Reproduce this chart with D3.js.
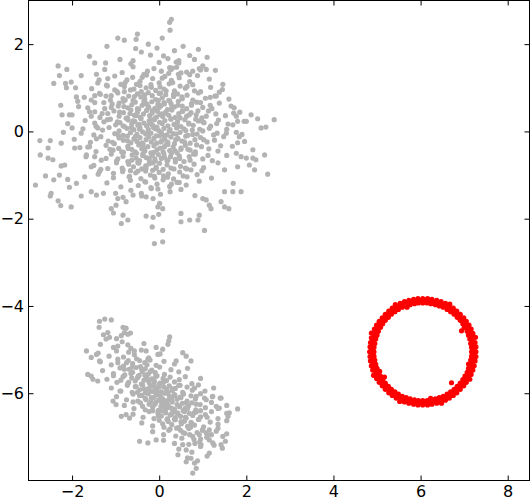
<!DOCTYPE html>
<html>
<head>
<meta charset="utf-8">
<script src="https://cdn.jsdelivr.net/npm/d3@7"></script>
<style>
body { margin: 0; background: #fff; }
</style>
</head>
<body>
<div id="chart"></div>
<script>
// tick labels
var xTicks = [-2, 0, 2, 4, 6, 8];
var yTicks = [-6, -4, -2, 0, 2];

// upper grey cluster, dense middle part (x, y)
var upperCore = [
[-1.25,1.42],[-0.85,1.35],[-0.6,1.48],[-0.35,1.31],[-0.12,1.44],[0.05,1.38],[0.22,1.33],[0.4,1.47],[0.63,1.36],[0.95,1.41],
[-1.38,1.18],[-1.02,1.27],[-0.78,1.12],[-0.61,1.24],[-0.44,1.15],[-0.29,1.29],[-0.15,1.21],[0.0,1.11],[0.13,1.26],[0.28,1.17],[0.46,1.23],[0.7,1.14],[0.88,1.28],[1.15,1.2],
[-1.55,0.98],[-1.21,1.06],[-0.97,0.92],[-0.8,1.03],[-0.66,0.95],[-0.52,1.08],[-0.41,0.91],[-0.3,1.0],[-0.19,1.07],[-0.08,0.94],[0.02,1.02],[0.11,0.97],[0.23,1.09],[0.35,0.93],[0.48,1.04],[0.6,0.99],[0.77,1.07],[0.95,0.91],[1.18,1.01],[1.45,0.96],
[-1.72,0.78],[-1.35,0.85],[-1.12,0.72],[-0.95,0.88],[-0.83,0.75],[-0.7,0.81],[-0.6,0.71],[-0.5,0.86],[-0.42,0.79],[-0.33,0.74],[-0.25,0.89],[-0.16,0.82],[-0.08,0.73],[0.0,0.87],[0.07,0.77],[0.15,0.84],[0.24,0.7],[0.33,0.8],[0.42,0.86],[0.53,0.75],[0.64,0.83],[0.77,0.72],[0.9,0.88],[1.06,0.76],[1.28,0.81],[1.6,0.74],
[-1.85,0.57],[-1.48,0.66],[-1.25,0.52],[-1.08,0.63],[-0.94,0.58],[-0.82,0.69],[-0.72,0.54],[-0.63,0.61],[-0.55,0.67],[-0.47,0.51],[-0.39,0.6],[-0.31,0.65],[-0.24,0.55],[-0.17,0.68],[-0.1,0.53],[-0.03,0.62],[0.04,0.59],[0.11,0.66],[0.19,0.5],[0.27,0.64],[0.35,0.56],[0.44,0.69],[0.53,0.58],[0.63,0.52],[0.74,0.63],[0.86,0.67],[1.0,0.55],[1.17,0.6],[1.38,0.65],[1.72,0.54],
[-2.0,0.38],[-1.6,0.45],[-1.36,0.32],[-1.18,0.41],[-1.04,0.47],[-0.92,0.35],[-0.82,0.43],[-0.73,0.31],[-0.65,0.49],[-0.57,0.37],[-0.5,0.44],[-0.43,0.33],[-0.36,0.4],[-0.29,0.48],[-0.22,0.36],[-0.16,0.42],[-0.1,0.3],[-0.04,0.46],[0.02,0.39],[0.08,0.34],[0.15,0.44],[0.22,0.37],[0.29,0.49],[0.37,0.32],[0.45,0.41],[0.54,0.46],[0.63,0.35],[0.73,0.43],[0.85,0.38],[0.98,0.31],[1.13,0.47],[1.3,0.4],[1.52,0.36],[1.85,0.44],
[-2.1,0.18],[-1.7,0.25],[-1.45,0.12],[-1.27,0.22],[-1.12,0.28],[-1.0,0.15],[-0.9,0.2],[-0.8,0.11],[-0.71,0.26],[-0.63,0.17],[-0.56,0.23],[-0.49,0.14],[-0.42,0.29],[-0.35,0.19],[-0.29,0.13],[-0.23,0.24],[-0.17,0.16],[-0.11,0.27],[-0.05,0.1],[0.01,0.21],[0.07,0.18],[0.13,0.25],[0.2,0.13],[0.27,0.28],[0.34,0.16],[0.42,0.22],[0.5,0.11],[0.59,0.27],[0.68,0.19],[0.78,0.14],[0.9,0.24],[1.03,0.2],[1.18,0.12],[1.36,0.26],[1.58,0.17],[1.95,0.23],
[-2.2,-0.02],[-1.75,0.06],[-1.5,-0.08],[-1.3,0.03],[-1.15,0.09],[-1.02,-0.05],[-0.92,0.01],[-0.83,-0.09],[-0.74,0.07],[-0.66,-0.03],[-0.58,0.04],[-0.51,-0.07],[-0.44,0.08],[-0.38,-0.01],[-0.31,-0.06],[-0.25,0.05],[-0.19,-0.04],[-0.13,0.09],[-0.07,-0.1],[-0.01,0.02],[0.05,-0.03],[0.11,0.07],[0.18,-0.08],[0.25,0.04],[0.32,-0.05],[0.4,0.08],[0.48,-0.02],[0.57,0.06],[0.66,-0.09],[0.76,0.03],[0.87,-0.06],[1.0,0.01],[1.15,0.07],[1.33,-0.04],[1.55,0.05],[1.9,-0.07],
[-1.95,-0.18],[-1.58,-0.25],[-1.34,-0.12],[-1.17,-0.22],[-1.03,-0.28],[-0.92,-0.15],[-0.82,-0.2],[-0.73,-0.11],[-0.65,-0.26],[-0.58,-0.17],[-0.51,-0.23],[-0.44,-0.14],[-0.37,-0.29],[-0.3,-0.19],[-0.24,-0.13],[-0.18,-0.24],[-0.12,-0.16],[-0.06,-0.27],[0.0,-0.1],[0.06,-0.21],[0.13,-0.18],[0.2,-0.25],[0.27,-0.13],[0.35,-0.28],[0.43,-0.16],[0.52,-0.22],[0.61,-0.11],[0.71,-0.27],[0.82,-0.19],[0.95,-0.14],[1.1,-0.24],[1.27,-0.2],[1.48,-0.12],[1.8,-0.26],
[-1.82,-0.37],[-1.45,-0.46],[-1.22,-0.32],[-1.06,-0.43],[-0.93,-0.39],[-0.82,-0.48],[-0.72,-0.34],[-0.63,-0.41],[-0.55,-0.47],[-0.47,-0.31],[-0.4,-0.4],[-0.33,-0.45],[-0.26,-0.35],[-0.19,-0.49],[-0.12,-0.33],[-0.05,-0.42],[0.02,-0.38],[0.09,-0.46],[0.16,-0.3],[0.24,-0.44],[0.32,-0.36],[0.41,-0.49],[0.5,-0.38],[0.6,-0.32],[0.71,-0.43],[0.83,-0.47],[0.97,-0.35],[1.14,-0.4],[1.35,-0.45],[1.68,-0.34],
[-1.68,-0.58],[-1.33,-0.66],[-1.1,-0.52],[-0.95,-0.63],[-0.83,-0.57],[-0.72,-0.69],[-0.62,-0.54],[-0.53,-0.61],[-0.45,-0.67],[-0.37,-0.51],[-0.3,-0.6],[-0.23,-0.65],[-0.16,-0.55],[-0.09,-0.68],[-0.02,-0.53],[0.05,-0.62],[0.12,-0.59],[0.2,-0.66],[0.28,-0.5],[0.37,-0.64],[0.46,-0.56],[0.57,-0.69],[0.69,-0.58],[0.83,-0.52],[1.0,-0.63],[1.22,-0.67],[1.55,-0.55],
[-1.5,-0.78],[-1.18,-0.85],[-0.98,-0.72],[-0.83,-0.88],[-0.7,-0.75],[-0.59,-0.81],[-0.49,-0.71],[-0.4,-0.86],[-0.31,-0.79],[-0.23,-0.74],[-0.15,-0.89],[-0.07,-0.82],[0.01,-0.73],[0.09,-0.87],[0.18,-0.77],[0.27,-0.84],[0.37,-0.7],[0.49,-0.8],[0.63,-0.86],[0.8,-0.75],[1.02,-0.83],[1.35,-0.72],
[-1.4,-0.98],[-1.05,-1.06],[-0.84,-0.92],[-0.68,-1.03],[-0.54,-0.95],[-0.42,-1.08],[-0.31,-0.91],[-0.2,-1.0],[-0.1,-1.07],[0.0,-0.94],[0.1,-1.02],[0.21,-0.97],[0.33,-1.09],[0.47,-0.93],[0.64,-1.04],[0.87,-0.99],[1.2,-1.07],
[-1.2,-1.18],[-0.88,-1.27],[-0.66,-1.12],[-0.48,-1.24],[-0.33,-1.15],[-0.19,-1.29],[-0.05,-1.21],[0.09,-1.11],[0.24,-1.26],[0.41,-1.17],[0.62,-1.23],[0.92,-1.14],
[-1.0,-1.42],[-0.65,-1.35],[-0.4,-1.48],[-0.18,-1.31],[0.03,-1.44],[0.25,-1.38],[0.5,-1.33],[0.82,-1.47]
];

// upper grey cluster, extra points filling the middle (x, y)
var upperFill = [
[-0.45,0.05],[0.12,-0.35],[-0.28,0.62],[0.41,0.15],[-0.72,-0.22],[0.03,0.88],[-0.91,0.44],[0.66,-0.41],[-0.15,-0.72],[0.29,0.55],
[-0.58,0.97],[0.84,0.28],[-1.13,-0.41],[0.19,-1.05],[-0.36,-0.38],[0.52,0.79],[-0.83,0.13],[1.02,-0.19],[-0.06,0.33],[-0.49,-0.91],
[0.31,1.12],[-1.27,0.66],[0.73,-0.88],[-0.21,0.18],[0.09,-0.09],[-0.67,0.41],[0.47,-0.62],[-0.98,-0.68],[1.21,0.52],[-0.39,1.24],
[0.61,0.02],[-0.12,-0.48],[-0.78,0.72],[0.22,0.71],[-1.41,0.08],[0.95,0.66],[-0.31,-1.16],[0.38,-0.19],[-0.55,-0.12],[0.0,0.55],
[-1.02,0.95],[0.77,-0.07],[-0.18,1.01],[0.15,0.42],[-0.86,-0.47],[0.55,-1.02],[-0.42,0.31],[1.12,-0.55],[-1.6,-0.35],[0.26,-0.58],
[-0.63,-0.66],[0.44,1.31],[-0.07,-0.85],[0.89,0.47],[-1.19,0.27],[-0.26,-0.02],[0.34,-0.86],[-0.74,1.18],[0.69,0.38],[-0.5,0.52],
[0.07,1.22],[-1.34,-0.87],[1.32,0.18],[-0.09,0.06],[-0.94,-0.09],[0.58,-0.24],[-0.33,0.84],[0.18,-0.67],[-0.69,-1.04],[0.98,-0.9],
[-1.48,0.45],[0.12,0.63],[-0.23,-0.61],[0.48,0.31],[-0.88,1.08],[1.41,-0.33],[-0.4,-0.26],[-0.03,-1.32],[0.81,0.93],[-1.07,-0.25],
[-0.6,0.24],[0.36,-0.44],[-0.16,0.47],[0.64,1.03],[-1.22,-0.62],[0.23,0.01],[-0.52,-0.5],[1.08,0.35],[-0.81,0.57],[0.04,-0.24],
[-0.35,0.69],[0.71,-0.66],[-1.56,0.72],[0.43,0.6],[-0.11,-1.03],[-0.71,-0.39],[0.93,0.05],[-0.27,1.38],[0.28,-1.21],[-0.96,0.22],
[0.53,0.47],[-0.47,-0.73],[1.25,-0.08],[-0.2,0.27],[-1.31,0.41],[0.16,0.93],[-0.64,0.09],[0.39,-0.06],[-0.85,-0.84],[0.74,0.6],
[-0.02,0.71],[-0.44,1.05],[0.6,-0.84],[-1.1,0.55],[0.27,0.29],[-0.3,-0.84],[0.86,-0.31],[-0.76,0.3],[0.11,-0.52],[-0.57,0.8],
[1.17,0.78],[-1.44,-0.17],[0.46,-1.17],[-0.14,0.13],[-0.92,0.65],[0.33,0.85],[-0.38,-0.55],[0.79,-0.52],[-0.66,-0.9],[0.06,0.4],
[-1.05,-0.96],[0.68,0.17],[-0.25,0.56],[0.5,-0.41],[-0.8,0.91],[0.2,-0.3],[-0.53,0.36],[1.0,0.22],[-0.1,-0.63],[-0.46,0.16]
];

// upper grey cluster, sparse outskirts (x, y)
var upperEdge = [
[0.28,2.57],[0.24,2.5],[0.25,2.32],[0.07,2.14],[-0.05,1.91],[-0.95,2.14],[-0.8,2.09],[-0.5,2.23],[-0.53,2.11],[-0.54,1.9],[-0.41,1.82],
[-1.2,1.95],[0.9,1.88],[0.35,1.85],[-1.6,1.72],[-0.9,1.65],[-0.2,1.75],[0.45,1.62],[1.1,1.7],[-0.6,1.62],[-0.25,2.0],[0.55,1.95],[-0.65,1.55],[0.0,1.58],
[-2.32,1.5],[-2.12,1.42],[-2.29,1.28],[-2.42,1.1],[-2.15,1.1],[-2.02,1.13],[-2.13,1.0],[-1.92,1.0],[-1.79,1.28],[-1.48,1.57],[-1.23,1.57],
[-2.26,0.6],[-2.23,0.38],[-2.06,0.38],[-1.9,0.79],[-1.87,0.69],[-2.0,0.08],[-1.64,0.54],[-1.56,0.35],[-1.44,1.31],[-1.41,1.11],[-1.18,1.21],[-1.19,1.04],[-1.48,0.82],[-1.37,0.87],[-1.22,0.81],[-1.1,0.82],[-1.48,0.19],
[0.7,1.74],[0.81,1.65],[0.1,1.73],[0.2,1.67],[0.24,1.46],[0.39,1.59],[0.45,1.57],[0.3,1.45],[0.27,1.42],[0.92,1.44],[1.0,1.5],[1.08,1.42],[1.29,1.4],[0.77,1.38],[0.7,1.3],[0.5,1.34],
[1.46,1.08],[1.38,0.9],[1.31,0.81],[1.65,0.58],[1.71,0.42],[1.77,0.35],[2.11,0.38],[2.26,0.29],[2.64,0.27],[2.0,0.23],[1.8,0.23],[1.69,0.15],[2.34,0.08],[2.45,0.1],
[1.54,-0.04],[1.77,-0.02],[1.84,-0.12],[1.96,-0.23],[2.15,-0.42],[2.42,-0.54],[2.49,-0.98],[1.77,-0.5],[1.88,-0.58],[2.0,-0.61],[2.15,-0.61],[2.22,-0.65],[1.8,-0.81],[2.07,-0.77],[2.19,-0.88],[1.5,-0.88],[1.7,-1.19],[1.5,-1.38],[1.69,-1.38],[1.88,-1.38],
[1.42,-1.61],[1.6,-1.77],[1.5,-1.73],[1.15,-1.69],[1.19,-1.77],[1.08,-1.57],[1.0,-1.54],
[1.04,-2.27],[0.89,-2.03],[0.92,-1.92],[0.7,-2.03],[0.5,-2.07],[0.5,-1.88],[0.08,-2.27],[0.08,-2.53],[-0.01,-1.9],[0.08,-1.77],
[-2.74,-0.21],[-2.5,-0.21],[-2.25,-0.27],[-2.55,-0.38],[-2.73,-0.54],[-2.55,-0.61],[-2.44,-0.65],[-2.84,-1.23],
[-2.61,-1.02],[-2.42,-1.11],[-2.29,-1.0],[-2.1,-1.1],[-2.48,-1.42],[-2.5,-1.48],[-2.32,-1.59],[-2.26,-1.7],[-2.02,-1.73],[-1.79,-1.48],[-1.56,-1.38],[-1.44,-1.46],[-1.28,-1.42],[-2.06,-1.28],[-1.9,-1.19],[-1.71,-1.04],[-2.25,-0.79],[-2.17,-0.77],
[-1.94,-0.38],[-1.79,-0.04],[-1.64,-0.36],[-1.67,-0.54],[-1.48,-0.58],[-1.56,-0.81],[-1.37,-0.92],
[-1.1,-1.77],[-0.99,-1.69],[-1.05,-1.87],[-0.83,-1.92],[-0.72,-2.03],[-0.87,-2.11],[-0.3,-1.94],[-0.14,-1.97],[-0.16,-2.19],[-0.11,-2.57],
[-0.95,-1.54],[-0.83,-1.51],[-0.76,-1.61],[-0.6,-1.46],[-0.41,-1.42],[-0.3,-1.5],[-0.14,-1.54],[-0.03,-1.73],[0.01,-1.65]
];

// lower grey cluster, dense middle part (x, y)
var lowerCore = [
[-1.28,-4.66],[-0.98,-4.75],[-0.66,-4.62],
[-1.35,-4.88],[-1.05,-4.95],[-0.85,-4.82],[-0.65,-4.97],[-0.35,-4.86],
[-1.4,-5.08],[-1.15,-5.15],[-0.98,-5.03],[-0.82,-5.17],[-0.7,-5.06],[-0.57,-5.12],[-0.41,-5.01],[-0.24,-5.19],[0.02,-5.1],
[-1.35,-5.28],[-1.1,-5.35],[-0.95,-5.22],[-0.82,-5.38],[-0.71,-5.25],[-0.61,-5.32],[-0.52,-5.21],[-0.43,-5.39],[-0.33,-5.3],[-0.21,-5.24],[-0.07,-5.36],[0.11,-5.27],[0.35,-5.33],
[-1.3,-5.48],[-1.05,-5.55],[-0.9,-5.42],[-0.79,-5.58],[-0.69,-5.45],[-0.61,-5.52],[-0.53,-5.41],[-0.46,-5.59],[-0.39,-5.5],[-0.32,-5.44],[-0.25,-5.56],[-0.17,-5.47],[-0.09,-5.53],[0.01,-5.4],[0.12,-5.57],[0.27,-5.46],[0.45,-5.51],[0.65,-5.43],
[-1.2,-5.68],[-0.97,-5.75],[-0.83,-5.62],[-0.72,-5.78],[-0.63,-5.65],[-0.55,-5.72],[-0.48,-5.61],[-0.41,-5.79],[-0.35,-5.7],[-0.29,-5.64],[-0.23,-5.76],[-0.17,-5.67],[-0.11,-5.73],[-0.05,-5.6],[0.02,-5.77],[0.09,-5.66],[0.17,-5.71],[0.25,-5.63],[0.35,-5.74],[0.46,-5.69],[0.6,-5.62],[0.75,-5.78],[0.95,-5.66],
[-1.1,-5.88],[-0.88,-5.95],[-0.73,-5.82],[-0.62,-5.98],[-0.53,-5.85],[-0.45,-5.92],[-0.38,-5.81],[-0.32,-5.99],[-0.26,-5.9],[-0.2,-5.84],[-0.15,-5.96],[-0.1,-5.87],[-0.05,-5.93],[0.0,-5.8],[0.05,-5.97],[0.11,-5.86],[0.17,-5.91],[0.23,-5.83],[0.3,-5.94],[0.37,-5.89],[0.45,-5.82],[0.54,-5.98],[0.64,-5.86],[0.76,-5.93],[0.9,-5.81],[1.05,-5.95],[1.25,-5.88],
[-0.98,-6.08],[-0.75,-6.15],[-0.6,-6.02],[-0.49,-6.18],[-0.4,-6.05],[-0.32,-6.12],[-0.25,-6.01],[-0.19,-6.19],[-0.13,-6.1],[-0.07,-6.04],[-0.02,-6.16],[0.03,-6.07],[0.08,-6.13],[0.13,-6.0],[0.18,-6.17],[0.23,-6.06],[0.29,-6.11],[0.35,-6.03],[0.41,-6.14],[0.48,-6.09],[0.56,-6.02],[0.64,-6.18],[0.73,-6.06],[0.83,-6.13],[0.95,-6.01],[1.08,-6.15],[1.22,-6.08],[1.4,-6.11],
[-0.8,-6.28],[-0.58,-6.35],[-0.43,-6.22],[-0.32,-6.38],[-0.23,-6.25],[-0.15,-6.32],[-0.08,-6.21],[-0.02,-6.39],[0.04,-6.3],[0.1,-6.24],[0.15,-6.36],[0.2,-6.27],[0.25,-6.33],[0.3,-6.2],[0.35,-6.37],[0.41,-6.26],[0.47,-6.31],[0.53,-6.23],[0.6,-6.34],[0.67,-6.29],[0.75,-6.22],[0.84,-6.38],[0.94,-6.26],[1.06,-6.33],[1.2,-6.21],[1.35,-6.35],[1.55,-6.28],
[-0.6,-6.48],[-0.37,-6.55],[-0.23,-6.42],[-0.12,-6.58],[-0.03,-6.45],[0.05,-6.52],[0.12,-6.41],[0.19,-6.59],[0.25,-6.5],[0.31,-6.44],[0.37,-6.56],[0.43,-6.47],[0.49,-6.53],[0.55,-6.4],[0.62,-6.57],[0.69,-6.46],[0.77,-6.51],[0.85,-6.43],[0.95,-6.54],[1.06,-6.49],[1.2,-6.42],[1.35,-6.58],[1.55,-6.46],
[-0.4,-6.68],[-0.15,-6.75],[0.0,-6.62],[0.11,-6.78],[0.21,-6.65],[0.29,-6.72],[0.37,-6.61],[0.44,-6.79],[0.51,-6.7],[0.58,-6.64],[0.65,-6.76],[0.73,-6.67],[0.81,-6.73],[0.91,-6.6],[1.02,-6.77],[1.17,-6.66],[1.35,-6.71],[1.55,-6.63],
[-0.15,-6.88],[0.1,-6.95],[0.25,-6.82],[0.38,-6.98],[0.49,-6.85],[0.59,-6.92],[0.68,-6.81],[0.77,-6.99],[0.87,-6.9],[0.99,-6.84],[1.13,-6.96],[1.31,-6.87],[1.55,-6.93],
[0.1,-7.08],[0.35,-7.15],[0.52,-7.03],[0.68,-7.17],[0.8,-7.06],[0.93,-7.12],[1.09,-7.01],[1.26,-7.19],[1.52,-7.1],
[0.45,-7.28],[0.75,-7.35],[0.95,-7.22],[1.15,-7.37],[1.45,-7.26],
[0.65,-7.48],[0.88,-7.55],[1.1,-7.44]
];

// lower grey cluster, extra points along the ridge (x, y)
var lowerFill = [
[-0.2,-5.95],[0.3,-6.35],[-0.5,-5.65],[0.6,-6.55],[0.05,-6.2],[-0.35,-5.9],[0.45,-6.3],[-0.1,-6.25],[0.2,-5.98],[-0.65,-5.55],
[0.75,-6.7],[-0.25,-5.7],[0.15,-6.45],[0.5,-6.1],[-0.45,-6.05],[0.9,-6.6],[-0.8,-5.45],[0.35,-6.6],[0.0,-5.85],[-0.15,-6.4],
[0.65,-6.35],[-0.55,-5.85],[0.25,-6.15],[1.0,-6.85],[-0.95,-5.3],[0.4,-6.8],[-0.3,-6.15],[0.1,-5.75],[0.8,-6.45],[-0.7,-5.75],
[0.55,-6.9],[-0.05,-6.0],[-0.4,-5.45],[0.3,-5.9],[1.1,-6.55],[-0.6,-6.2],[0.7,-6.95],[0.18,-6.6],[-0.2,-5.5],[0.95,-7.05],
[-1.05,-5.6],[0.42,-6.45],[-0.12,-5.8],[0.62,-6.22],[-0.38,-6.3],[0.08,-6.7],[-0.75,-5.3],[0.85,-6.25],[0.28,-6.48],[-0.28,-5.35],
[0.5,-6.65],[-0.5,-5.98],[1.2,-6.95],[-0.02,-6.52],[-0.88,-5.7],[0.36,-6.05],[0.72,-6.78],[-0.18,-6.1],[0.12,-6.32],[-0.62,-5.4],
[0.58,-6.42],[-0.33,-5.58],[0.95,-6.4],[0.22,-6.85],[-0.08,-5.62],[0.48,-5.82],[-0.9,-5.95],[0.82,-7.15],[-0.45,-5.25],[0.03,-6.4]
];

// lower grey cluster, sparse outskirts (x, y)
var lowerEdge = [
[-1.25,-4.3],[-1.37,-4.35],[-1.1,-4.32],[-1.38,-4.49],[-1.18,-4.61],[-1.14,-4.72],[-1.22,-4.76],[-0.83,-4.49],[-0.76,-4.51],[-0.8,-4.61],[-0.87,-4.68],[-0.72,-4.65],[0.24,-4.71],[0.22,-4.8],[0.2,-4.88],
[-1.67,-5.03],[-1.56,-5.18],[-1.44,-5.11],[-1.37,-5.26],[-1.64,-5.57],[-1.56,-5.61],[-1.52,-5.68],[-1.41,-5.72],
[-1.06,-6.18],[-0.99,-6.26],[-0.87,-6.53],[-0.76,-6.49],[-0.68,-6.57],[-0.45,-7.1],[-0.26,-7.14],[-0.07,-7.07],
[0.62,-7.57],[0.73,-7.49],[0.81,-7.6],[0.77,-7.83],[0.85,-7.72],
[1.8,-6.36],[1.61,-6.45],[1.58,-6.53],[1.38,-6.34],[1.42,-6.11],[1.23,-6.07],[1.31,-6.3],[1.46,-6.99],[1.42,-7.18],[1.23,-7.14],[1.15,-7.07],[1.35,-6.8],[1.15,-6.84],[1.08,-6.91],[0.92,-6.95],[0.96,-7.18],[0.54,-7.18],[0.62,-7.3],[0.43,-7.41],
[0.54,-5.07],[0.62,-5.15],[0.73,-5.26],[0.39,-5.26],[0.81,-5.88],[1.04,-6.11],[0.85,-6.07],
[-0.3,-5.03],[-0.07,-4.95],[0.08,-4.99],[-0.03,-5.11],[-0.26,-5.22],[-0.95,-4.92],[-0.72,-4.89],[-0.57,-5.03]
];

// red ring, outer edge of the band (x, y)
var ringOuter = [
[7.27,-5.05],[7.27,-4.94],[7.25,-4.84],[7.26,-4.72],[7.2,-4.63],[7.16,-4.53],[7.11,-4.44],[7.05,-4.35],[6.99,-4.27],[6.91,-4.19],[6.83,-4.12],[6.75,-4.05],[6.67,-3.96],[6.57,-3.94],[6.47,-3.9],[6.37,-3.87],[6.26,-3.85],[6.16,-3.83],
[6.05,-3.83],[5.94,-3.83],[5.84,-3.85],[5.73,-3.87],[5.63,-3.9],[5.53,-3.94],[5.42,-3.97],[5.35,-4.05],[5.27,-4.12],[5.19,-4.19],[5.12,-4.27],[5.05,-4.35],[4.99,-4.44],[4.94,-4.53],[4.87,-4.62],[4.87,-4.73],[4.85,-4.84],[4.84,-4.94],
[4.83,-5.05],[4.84,-5.16],[4.85,-5.26],[4.87,-5.37],[4.9,-5.47],[4.92,-5.59],[4.99,-5.66],[5.05,-5.75],[5.12,-5.83],[5.19,-5.91],[5.27,-5.99],[5.35,-6.05],[5.44,-6.11],[5.52,-6.19],[5.63,-6.2],[5.73,-6.23],[5.84,-6.25],[5.94,-6.27],
[6.05,-6.27],[6.16,-6.27],[6.26,-6.25],[6.37,-6.23],[6.48,-6.23],[6.57,-6.16],[6.66,-6.11],[6.75,-6.05],[6.83,-5.99],[6.91,-5.91],[6.99,-5.83],[7.05,-5.75],[7.13,-5.68],[7.16,-5.57],[7.2,-5.47],[7.23,-5.37],[7.25,-5.26],[7.27,-5.16]
];

// red ring, middle of the band (x, y)
var ringMid = [
[7.22,-5.0],[7.21,-4.9],[7.19,-4.8],[7.17,-4.7],[7.13,-4.6],[7.09,-4.51],[7.04,-4.42],[6.98,-4.34],[6.91,-4.26],[6.84,-4.19],[6.76,-4.12],[6.68,-4.06],[6.59,-4.01],[6.5,-3.97],[6.4,-3.93],[6.3,-3.91],[6.2,-3.89],[6.1,-3.88],
[6.0,-3.88],[5.9,-3.89],[5.8,-3.91],[5.7,-3.93],[5.6,-3.97],[5.51,-4.01],[5.42,-4.06],[5.34,-4.12],[5.26,-4.19],[5.19,-4.26],[5.12,-4.34],[5.06,-4.42],[5.01,-4.51],[4.97,-4.6],[4.93,-4.7],[4.91,-4.8],[4.89,-4.9],[4.88,-5.0],
[4.88,-5.1],[4.89,-5.2],[4.91,-5.3],[4.93,-5.4],[4.97,-5.5],[5.01,-5.59],[5.06,-5.68],[5.12,-5.76],[5.19,-5.84],[5.26,-5.91],[5.34,-5.98],[5.42,-6.04],[5.51,-6.09],[5.6,-6.13],[5.7,-6.17],[5.8,-6.19],[5.9,-6.21],[6.0,-6.22],
[6.1,-6.22],[6.2,-6.21],[6.3,-6.19],[6.4,-6.17],[6.5,-6.13],[6.59,-6.09],[6.68,-6.04],[6.76,-5.98],[6.84,-5.91],[6.91,-5.84],[6.98,-5.76],[7.04,-5.68],[7.09,-5.59],[7.13,-5.5],[7.17,-5.4],[7.19,-5.3],[7.21,-5.2],[7.22,-5.1]
];

// red ring, inner edge of the band (x, y)
var ringInner = [
[7.17,-5.05],[7.17,-4.95],[7.15,-4.86],[7.13,-4.76],[7.1,-4.67],[7.07,-4.58],[7.0,-4.5],[6.97,-4.41],[6.91,-4.33],[6.84,-4.26],[6.77,-4.19],[6.69,-4.13],[6.61,-4.08],[6.52,-4.03],[6.43,-4.0],[6.34,-3.97],[6.24,-3.95],[6.15,-3.93],
[6.05,-3.93],[5.95,-3.93],[5.86,-3.95],[5.76,-3.97],[5.69,-4.03],[5.58,-4.03],[5.49,-4.08],[5.41,-4.13],[5.33,-4.19],[5.26,-4.26],[5.19,-4.33],[5.13,-4.41],[5.08,-4.49],[5.03,-4.58],[5.0,-4.67],[4.97,-4.76],[4.95,-4.86],[4.93,-4.95],
[4.93,-5.05],[4.93,-5.15],[4.95,-5.24],[4.97,-5.34],[5.0,-5.43],[5.06,-5.5],[5.08,-5.61],[5.13,-5.69],[5.19,-5.77],[5.26,-5.84],[5.33,-5.91],[5.41,-5.97],[5.49,-6.02],[5.58,-6.07],[5.67,-6.1],[5.76,-6.13],[5.86,-6.15],[5.95,-6.17],
[6.05,-6.17],[6.15,-6.17],[6.23,-6.12],[6.34,-6.13],[6.43,-6.1],[6.52,-6.07],[6.61,-6.02],[6.69,-5.97],[6.77,-5.91],[6.84,-5.84],[6.91,-5.77],[6.97,-5.69],[7.02,-5.61],[7.07,-5.52],[7.1,-5.43],[7.1,-5.33],[7.15,-5.24],[7.17,-5.15]
];

// red points that fall inside the ring
var ringStray = [[5.17,-5.63],[6.71,-5.76],[6.94,-4.57]];

// set the dimensions and margins of the graph
var margin = {top: 0.5, right: 1.5, bottom: 16.5, left: 28.5},
    width = 531 - margin.left - margin.right,
    height = 497 - margin.top - margin.bottom;

var svg = d3.select("#chart")
.append("svg")
.attr("width", 531)
.attr("height", 497)
.append("g")
.attr("transform", "translate(" + margin.left + "," + margin.top + ")");

var x = d3.scaleLinear().domain([-3, 8.5]).range([0, width]);
var y = d3.scaleLinear().domain([-8, 3]).range([height, 0]);

// grey clusters
var grey = upperCore.concat(upperFill, upperEdge, lowerCore, lowerFill, lowerEdge);
svg.append("g")
.selectAll("circle")
.data(grey)
.enter().append("circle")
.attr("cx", function(d) { return x(d[0]); })
.attr("cy", function(d) { return y(d[1]); })
.attr("r", 2.6)
.attr("fill", "#b3b3b3");

// red ring
var ring = ringOuter.concat(ringMid, ringInner, ringStray);
svg.append("g")
.selectAll("circle")
.data(ring)
.enter().append("circle")
.attr("cx", function(d) { return x(d[0]); })
.attr("cy", function(d) { return y(d[1]); })
.attr("r", 2.6)
.attr("fill", "#ff0000");

// axes, ticks pointing inwards on all four sides
function styleAxis(g) {
    g.attr("font-size", 16).attr("font-family", "'DejaVu Sans', sans-serif");
    g.select(".domain").remove();
    g.selectAll(".tick line").attr("stroke", "#000");
    g.selectAll(".tick text").attr("fill", "#000");
}

svg.append("g")
.attr("transform", "translate(0," + height + ")")
.call(d3.axisBottom(x).tickValues(xTicks).tickSize(-5).tickPadding(5.5))
.call(styleAxis);

svg.append("g")
.call(d3.axisTop(x).tickValues(xTicks).tickSize(-5).tickFormat(""))
.call(styleAxis);

svg.append("g")
.call(d3.axisLeft(y).tickValues(yTicks).tickSize(-5).tickPadding(4.5))
.call(styleAxis);

svg.append("g")
.attr("transform", "translate(" + width + ",0)")
.call(d3.axisRight(y).tickValues(yTicks).tickSize(-5).tickFormat(""))
.call(styleAxis);

// frame
svg.append("rect")
.attr("width", width)
.attr("height", height)
.attr("fill", "none")
.attr("stroke", "#000")
.attr("stroke-width", 1);
</script>
</body>
</html>
